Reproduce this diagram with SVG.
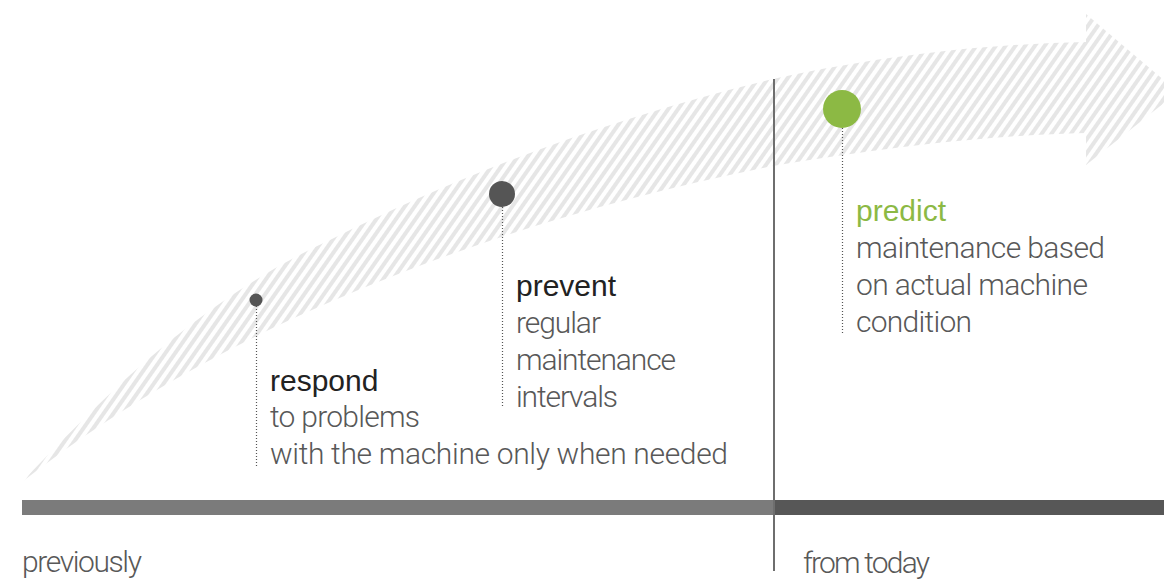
<svg xmlns="http://www.w3.org/2000/svg" width="1164" height="579" viewBox="0 0 1164 579">
  <style>
    .title { font-family: "Liberation Sans", Arial, sans-serif; font-size: 30px; fill: #222; }
    .green { fill: #8cb944; }
    .body { font-family: Roboto, "Liberation Sans", sans-serif; font-weight: 300; font-size: 30px; fill: #585858; }
    .dot { stroke: #555; stroke-width: 1.2; stroke-dasharray: 1 2; fill: none; }
  </style>
  <defs>
    <pattern id="stripes" width="8" height="8" patternUnits="userSpaceOnUse" patternTransform="rotate(35)">
      <rect x="0" y="0" width="4" height="8" fill="#e6e6e6"/>
    </pattern>
  </defs>
  <rect width="1164" height="579" fill="#ffffff"/>
  <g id="arrow">
    <path d="M22,482 C110,390 200,300 330,240 C450,180 600,120 773,79 C900,52 1000,44 1086,42 L1086,14 L1178,92 L1086,165 L1086,133 C1000,135 900,145 773,166 C600,200 450,250 330,302 C230,345 120,405 22,482 Z" fill="url(#stripes)"/>
  </g>
  <g id="timeline">
    <rect x="22" y="500" width="752" height="15" fill="#7b7b7b"/>
    <rect x="774" y="500" width="390" height="15" fill="#575757"/>
    <line x1="774" y1="79" x2="774" y2="571" stroke="#6e6e6e" stroke-width="2"/>
    <text class="body" x="22" y="572" textLength="120">previously</text>
    <text class="body" x="803" y="573" textLength="127">from today</text>
  </g>
  <g id="connectors">
    <line class="dot" x1="256.5" y1="306" x2="256.5" y2="466"/>
    <line class="dot" x1="502.5" y1="207" x2="502.5" y2="408"/>
    <line class="dot" x1="842.5" y1="128" x2="842.5" y2="334"/>
  </g>
  <g id="respond">
    <circle cx="256" cy="300" r="6.5" fill="#555"/>
    <text class="title" x="270" y="391">respond</text>
    <text class="body" x="270" y="427" textLength="150">to problems</text>
    <text class="body" x="270" y="464" textLength="458">with the machine only when needed</text>
  </g>
  <g id="prevent">
    <circle cx="502" cy="194" r="13" fill="#555"/>
    <text class="title" x="516" y="296">prevent</text>
    <text class="body" x="516" y="333" textLength="85">regular</text>
    <text class="body" x="516" y="370" textLength="160">maintenance</text>
    <text class="body" x="516" y="407" textLength="102">intervals</text>
  </g>
  <g id="predict">
    <circle cx="842" cy="109" r="19" fill="#8cb944"/>
    <text class="title green" x="856" y="221">predict</text>
    <text class="body" x="856" y="258" textLength="249">maintenance based</text>
    <text class="body" x="856" y="295" textLength="232">on actual machine</text>
    <text class="body" x="856" y="332" textLength="116">condition</text>
  </g>
</svg>
